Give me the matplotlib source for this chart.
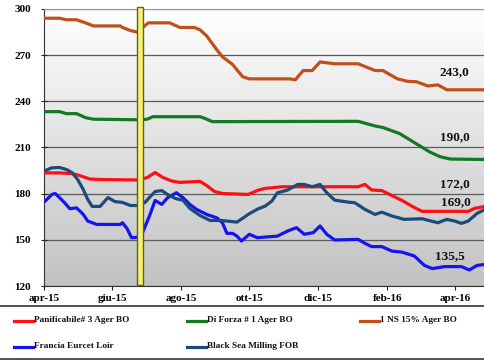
import numpy as np
import pandas as pd
import matplotlib
matplotlib.use("Agg")
import matplotlib.pyplot as plt
import matplotlib.dates as mdates
from matplotlib.lines import Line2D
from matplotlib.patches import Rectangle

plt.rcParams['font.family'] = ['Liberation Serif', 'DejaVu Serif']
plt.rcParams['font.weight'] = 'bold'

# ---------------- data ----------------
ns_dates = ["2015-04-02","2015-04-15","2015-04-21","2015-04-30","2015-05-08","2015-05-15","2015-06-08",
            "2015-06-10","2015-06-17","2015-06-23","2015-06-28","2015-07-03","2015-07-22","2015-07-31",
            "2015-08-13","2015-08-18","2015-08-24","2015-09-02","2015-09-07","2015-09-16","2015-09-25",
            "2015-10-01","2015-11-06","2015-11-11","2015-11-18","2015-11-26","2015-12-03","2015-12-16",
            "2016-01-06","2016-01-21","2016-01-28","2016-02-10","2016-02-19","2016-02-27","2016-03-08",
            "2016-03-17","2016-03-25","2016-04-28"]
ns_vals = [294,294,293,293,291,289,289,288,286,285,288,291,291,288,288,286.5,282.5,273.5,269,264,256,
           254.6,254.6,254,260,260,265.6,264.4,264.4,260,260,254.6,253,252.7,250,250.7,247.5,247.5]

forza_dates = ["2015-04-02","2015-04-15","2015-04-21","2015-04-30","2015-05-08","2015-05-15","2015-06-25",
               "2015-07-02","2015-07-07","2015-08-18","2015-08-22","2015-08-29","2016-01-06","2016-01-21",
               "2016-01-28","2016-02-12","2016-02-21","2016-03-01","2016-03-10","2016-03-19","2016-03-28",
               "2016-04-28"]
forza_vals = [233.3,233.3,232,232,229.4,228.4,228,228.4,230,230,229,226.8,227,224,223,219,215,211,207,204,
              202.5,202.2]

pan_dates = ["2015-04-02","2015-04-15","2015-04-26","2015-04-30","2015-05-12","2015-05-21","2015-06-25",
             "2015-07-02","2015-07-09","2015-07-16","2015-07-24","2015-07-31","2015-08-18","2015-08-24",
             "2015-08-31","2015-09-07","2015-09-30","2015-10-09","2015-10-15","2015-10-30","2016-01-06",
             "2016-01-12","2016-01-18","2016-01-27","2016-02-05","2016-02-14","2016-02-25","2016-03-03",
             "2016-04-13","2016-04-19","2016-04-28"]
pan_vals = [193.5,193.5,193,192.4,189.5,189.2,188.9,190.5,193.7,190.5,188.2,187.3,188,185.3,181.4,180.1,
            179.5,182.3,183.4,184.5,184.5,186,182.4,182,178.8,175.6,171,168.5,168.5,170.5,171.7]

fr_dates = ["2015-04-02","2015-04-08","2015-04-11","2015-04-15","2015-04-20","2015-04-24","2015-04-30",
            "2015-05-06","2015-05-10","2015-05-18","2015-06-08","2015-06-10","2015-06-14","2015-06-18",
            "2015-06-23","2015-06-28","2015-07-04","2015-07-09","2015-07-15","2015-07-20","2015-07-28",
            "2015-08-03","2015-08-09","2015-08-15","2015-08-24","2015-09-02","2015-09-07","2015-09-11",
            "2015-09-16","2015-09-20","2015-09-24","2015-10-01","2015-10-08","2015-10-26","2015-11-04",
            "2015-11-12","2015-11-19","2015-11-27","2015-12-03","2015-12-09","2015-12-16","2016-01-06",
            "2016-01-12","2016-01-18","2016-01-27","2016-02-05","2016-02-14","2016-02-25","2016-03-05",
            "2016-03-12","2016-03-23","2016-04-07","2016-04-14","2016-04-21","2016-04-28"]
fr_vals = [175.1,179.5,180.1,177.3,173.6,170.2,170.8,166.5,162.2,160,160,161.1,157.3,151.4,151.6,155,
           165.5,175.6,173,177.3,180.6,177.3,173,169.8,166.5,164.3,161.1,154.2,154.2,152.4,149.2,153.6,
           151.4,152.4,155.7,157.9,153.6,154.7,159,153.6,149.9,150.3,147.7,145.6,145.6,142.7,142,139.5,
           133.4,131.3,132.6,132.6,130.4,133.4,134]

bs_dates = ["2015-04-02","2015-04-08","2015-04-15","2015-04-21","2015-04-26","2015-05-01","2015-05-06",
            "2015-05-10","2015-05-14","2015-05-21","2015-05-28","2015-06-03","2015-06-10","2015-06-17",
            "2015-06-24","2015-06-30","2015-07-04","2015-07-09","2015-07-15","2015-07-20","2015-07-27",
            "2015-08-03","2015-08-09","2015-08-18","2015-08-27","2015-09-05","2015-09-14","2015-09-20",
            "2015-09-25","2015-10-01","2015-10-09","2015-10-15","2015-10-21","2015-10-26","2015-11-04",
            "2015-11-13","2015-11-19","2015-11-26","2015-12-03","2015-12-09","2015-12-16","2015-12-28",
            "2016-01-03","2016-01-12","2016-01-21","2016-01-27","2016-02-05","2016-02-16","2016-03-03",
            "2016-03-17","2016-03-25","2016-04-01","2016-04-07","2016-04-13","2016-04-21","2016-04-28"]
bs_vals = [195,196.8,197,195.7,193.7,189.2,182.7,176.2,171.7,171.7,177.5,174.9,174.3,172.3,172.3,174.3,
           177.5,181.4,182,179.5,176.9,175.6,170.4,165.8,162.6,162.6,162,161.5,164,167,170.2,171.9,175.1,
           180.6,182.3,186,186,184.5,186,180.6,175.8,174.5,174.1,169.8,166.5,168,165.5,163.3,163.7,161.1,
           163.3,162.2,160.7,162.2,167.2,169.8]

series_names = ["Panificabile# 3 Ager BO", "Di Forza # 1 Ager BO", "1 NS 15% Ager BO",
                "Francia Euronext Loir", "Black Sea Milling FOB"]
legend_labels = ["Panificabile# 3 Ager BO", "Di Forza # 1 Ager BO", "1 NS 15% Ager BO",
                 "Francia Eurcet Loir", "Black Sea Milling FOB"]
colors = ["#ff1010", "#127a22", "#c0501a", "#1414f0", "#1c4a7c"]

tick_dates = ["2015-04-01","2015-06-01","2015-08-01","2015-10-01","2015-12-01","2016-02-01","2016-04-01"]
tick_labels = ["apr-15","giu-15","ago-15","ott-15","dic-15","feb-16","apr-16"]
y_ticks = [120, 150, 180, 210, 240, 270, 300]

highlight_start, highlight_end = "2015-06-23", "2015-06-28"

annot_texts = ["243,0", "190,0", "172,0", "169,0", "135,5"]
annot_dates = ["2016-04-01", "2016-04-01", "2016-04-01", "2016-04-02", "2016-03-28"]
annot_vals = [258.7, 217.0, 186.0, 174.5, 139.3]

# ---------------- figure ----------------
fig = plt.figure(figsize=(4.85, 3.6), dpi=100)
ax = fig.add_axes([44/485, 1-286/360, 1-44/485, (286-9)/360])

# gradient background
grad = np.linspace(0, 1, 256).reshape(-1, 1)
cmap = matplotlib.colors.LinearSegmentedColormap.from_list("g", ["#ffffff", "#c2c2c2"])
ax.imshow(grad, extent=[0, 1, 0, 1], transform=ax.transAxes, aspect='auto', cmap=cmap,
          origin='upper', zorder=0)

all_series = [(pan_dates, pan_vals), (forza_dates, forza_vals), (ns_dates, ns_vals),
              (fr_dates, fr_vals), (bs_dates, bs_vals)]
for (d, v), c, n in zip(all_series, colors, series_names):
    ax.plot(pd.to_datetime(d), v, color=c, lw=2.3, solid_joinstyle='round',
            solid_capstyle='round', zorder=3, label=n)

ax.set_ylim(120, 300)
ax.set_xlim(pd.Timestamp("2015-04-01"), pd.Timestamp("2016-04-28"))
ax.set_yticks(y_ticks)
ax.set_xticks(pd.to_datetime(tick_dates))
ax.set_xticklabels(tick_labels)
ax.tick_params(axis='both', labelsize=8, length=3, width=0.8, colors='#222222')
ax.tick_params(axis='x', direction='out', pad=3)
ax.tick_params(axis='y', direction='inout', length=5, pad=7)
for lab in ax.get_xticklabels() + ax.get_yticklabels():
    lab.set_fontweight('bold')
    lab.set_color('black')

ax.yaxis.grid(True, color='#5a5a5a', lw=0.9, zorder=1)
ax.set_axisbelow(True)
ax.spines['right'].set_visible(False)
ax.spines['top'].set_color('#999999')
ax.spines['left'].set_color('#333333')
ax.spines['bottom'].set_color('#333333')

# highlight bar
x0 = mdates.date2num(pd.Timestamp(highlight_start))
x1 = mdates.date2num(pd.Timestamp(highlight_end))
ax.add_patch(Rectangle((x0, 120.8), x1 - x0, 180.7, facecolor='#f6f270', edgecolor='#5e5e2a',
                       lw=1.0, zorder=4, clip_on=False))

for t, d, v in zip(annot_texts, annot_dates, annot_vals):
    ax.text(pd.Timestamp(d), v, t, ha='center', va='center', fontsize=9.5, fontweight='bold',
            color='#111111', zorder=5)

# legend area
fig.add_artist(Line2D([0, 1], [1-306/360, 1-306/360], color='#333333', lw=1.2))
fig.add_artist(Line2D([0, 1], [1-359/360, 1-359/360], color='#333333', lw=1.2))
leg_x = [14, 187, 360, 14, 187]
leg_y = [320.5, 320.5, 320.5, 346.5, 346.5]
for lx, ly, c, lab in zip(leg_x, leg_y, colors, legend_labels):
    fig.add_artist(Line2D([lx/485, (lx+19)/485], [1-ly/360, 1-ly/360], color=c, lw=2.3))
    fig.text((lx+20)/485, 1-ly/360, lab, ha='left', va='center', fontsize=6.7,
             fontweight='bold', color='#111111')

fig.savefig("out.png", dpi=100)
